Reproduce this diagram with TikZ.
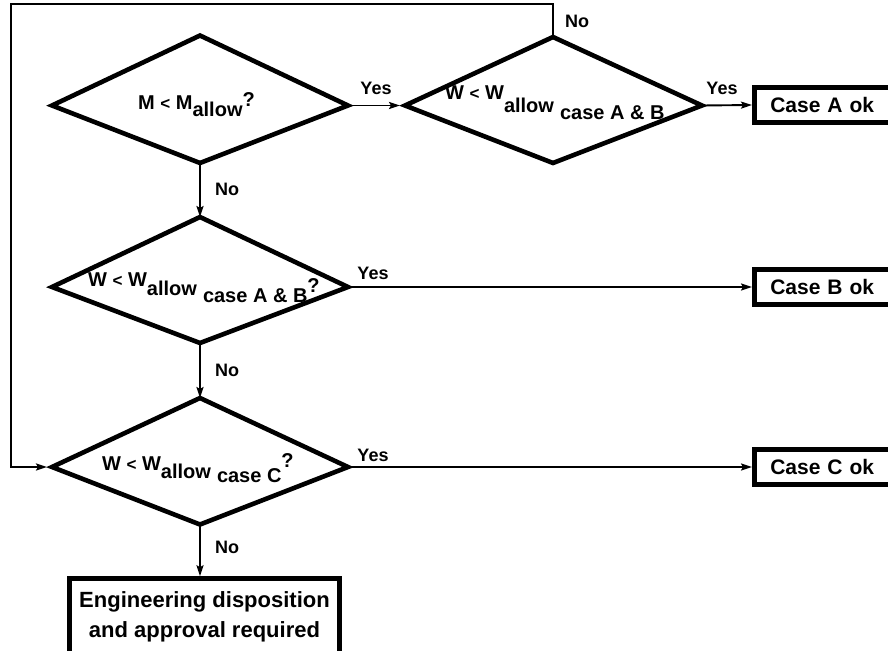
\documentclass[tikz,border=0pt]{standalone}
\usepackage{fontspec}
\setmainfont{Liberation Sans}
\usetikzlibrary{arrows.meta}
\newcommand\smlt{{\fontsize{17}{17}\selectfont<}}
\begin{document}
\begin{tikzpicture}[x=1pt,y=-1pt,
  dline/.style={line width=4.6pt, line join=miter},
  okbox/.style={rectangle, draw, line width=4.6pt, anchor=west, minimum height=35pt,
    text width=130pt, inner xsep=16pt, inner ysep=0pt, align=left,
    font=\fontsize{21}{25}\selectfont\bfseries},
  conn/.style={line width=1.9pt, -{Stealth[length=11pt,width=7pt,inset=2pt]}},
  lab/.style={font=\fontsize{18}{20}\selectfont\bfseries, inner sep=0pt},
  dtxt/.style={anchor=base west, inner sep=0pt, font=\fontsize{20}{23}\selectfont\bfseries}]
\useasboundingbox (0,0) rectangle (888,650);
\clip (0,0) rectangle (888,650);

% diamond 1
\coordinate (d1n) at (200,35.5);
\coordinate (d1e) at (348,105.5);
\coordinate (d1s) at (200,163);
\coordinate (d1w) at (52,105.5);
% diamond 2
\coordinate (d2n) at (553,37);
\coordinate (d2e) at (702,105.5);
\coordinate (d2s) at (553,163);
\coordinate (d2w) at (405,105.5);
% diamond 3
\coordinate (d3n) at (200,217);
\coordinate (d3e) at (348,287);
\coordinate (d3s) at (200,343);
\coordinate (d3w) at (52,287);
% diamond 4
\coordinate (d4n) at (200,398);
\coordinate (d4e) at (348,467);
\coordinate (d4s) at (200,524.5);
\coordinate (d4w) at (52,467);

\draw[dline] (d1n) -- (d1e) -- (d1s) -- (d1w) -- cycle;
\draw[dline] (d2n) -- (d2e) -- (d2s) -- (d2w) -- cycle;
\draw[dline] (d3n) -- (d3e) -- (d3s) -- (d3w) -- cycle;
\draw[dline] (d4n) -- (d4e) -- (d4s) -- (d4w) -- cycle;

% diamond texts
\node[dtxt] (t1) at (138,110) {M \smlt{} M\raisebox{-7pt}{allow}\raisebox{3pt}{?}};
\node[dtxt] (t2) at (445,100) {W \smlt{} W\raisebox{-13pt}{allow}\hspace{6pt}\raisebox{-20pt}{case A \& B}};
\node[dtxt] (t3) at (88,286) {W \smlt{} W\raisebox{-9pt}{allow}\hspace{6pt}\raisebox{-16pt}{case A \& B}\raisebox{-6pt}{?}};
\node[dtxt] (t4) at (102,470) {W \smlt{} W\raisebox{-8pt}{allow}\hspace{6pt}\raisebox{-12pt}{case C}\raisebox{3pt}{?}};

% result boxes
\node[okbox] (ca) at (752,105) {Case A ok};
\node[okbox] (cb) at (752,287) {Case B ok};
\node[okbox] (cc) at (752,467) {Case C ok};
\node[draw, line width=4.6pt, minimum width=270pt, minimum height=77pt, inner sep=0pt,
  align=center, font=\fontsize{22}{30}\selectfont\bfseries] (eng) at (204.5,617)
  {Engineering disposition\\and approval required};

% feedback route coordinates
\coordinate (fbr) at (553,4);
\coordinate (fbl) at (11,4);
\coordinate (fbb) at (11,467);

% connectors
\draw[conn, shorten >=5pt] (d1e) -- (d2w);
\draw[conn] (d2e) -- (ca.west);
\draw[conn] (d1s) -- (d3n);
\draw[conn] (d3e) -- (cb.west);
\draw[conn] (d3s) -- (d4n);
\draw[conn] (d4e) -- (cc.west);
\draw[conn] (d4s) -- (d4s |- eng.north);
\draw[conn, shorten >=5pt] (d2n) -- (fbr) -- (fbl) -- (fbb) -- (d4w);

% labels
\node[lab] (y1) at (376,88) {Yes};
\node[lab] (y2) at (722,88) {Yes};
\node[lab] (y3) at (373,273) {Yes};
\node[lab] (y4) at (373,455) {Yes};
\node[lab] (n1) at (227,189) {No};
\node[lab] (n2) at (227,370) {No};
\node[lab] (n3) at (227,547) {No};
\node[lab] (n4) at (577,21) {No};
\end{tikzpicture}
\end{document}
